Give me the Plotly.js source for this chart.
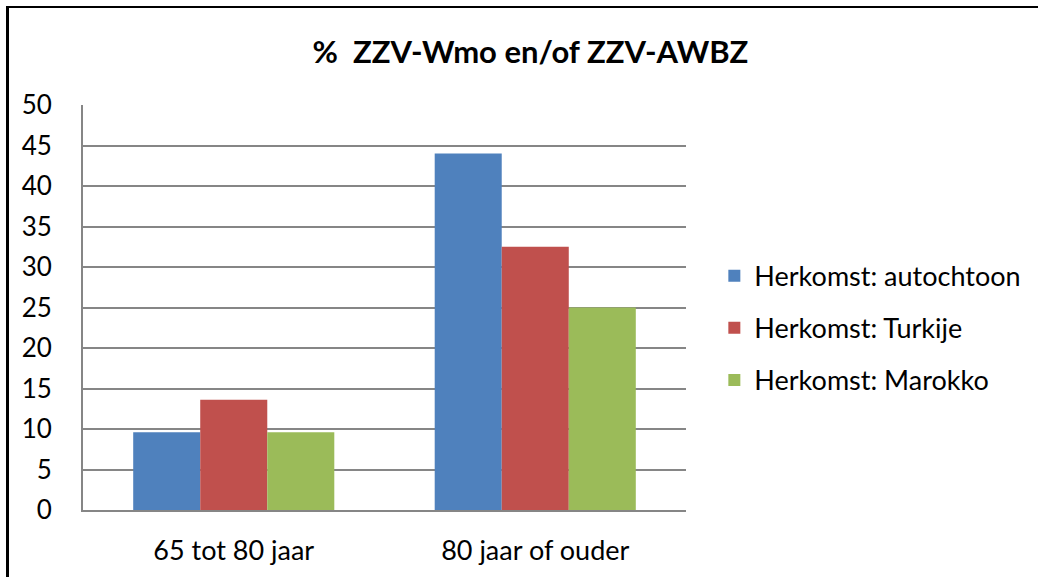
<!DOCTYPE html>
<html>
<head>
<meta charset="utf-8">
<script src="https://cdn.plot.ly/plotly-3.0.1.min.js"></script>
<style>
  html, body { margin: 0; padding: 0; background: #fff; }
  #frame { position: absolute; left: 6px; top: 6px; width: 1032px; height: 571px;
           border-top: 2px solid #000; border-left: 3px solid #000; box-sizing: border-box; pointer-events: none; z-index: 5; }
  #chart { position: absolute; left: 0; top: 0; width: 1038px; height: 577px; }
</style>
</head>
<body>
<div id="chart"></div>
<div id="frame"></div>
<script>
const categories = ["65 tot 80 jaar", "80 jaar of ouder"];
const seriesNames = ["Herkomst: autochtoon", "Herkomst: Turkije", "Herkomst: Marokko"];
const autochtoon = [9.6, 44.0];
const turkije = [13.6, 32.5];
const marokko = [9.6, 25.0];
const colors = ["#4F81BD", "#C0504D", "#9BBB59"];
const yTicks = [0, 5, 10, 15, 20, 25, 30, 35, 40, 45, 50];

const FONT = "Lato, Carlito, Calibri, 'Liberation Sans', sans-serif";
const values = [autochtoon, turkije, marokko];
const traces = values.map((v, i) => ({
  type: "bar",
  x: categories,
  y: v,
  name: seriesNames[i],
  legendgroup: "g" + i,
  marker: { color: colors[i], line: { width: 0 } },
  hoverinfo: "x+y+name"
}));

const layout = {
  width: 1038,
  height: 577,
  margin: { l: 83, r: 350, t: 105, b: 67, pad: 0 },
  paper_bgcolor: "#fff",
  plot_bgcolor: "#fff",
  font: { family: FONT, size: 26, color: "#000" },
  title: {
    text: "<b>%  ZZV-Wmo en/of ZZV-AWBZ</b>",
    font: { family: FONT, size: 31, color: "#000" },
    xref: "container", x: 0.511, xanchor: "center",
    yref: "container", y: 1 - 52 / 577, yanchor: "middle"
  },
  barmode: "group",
  bargap: 0.333,
  bargroupgap: 0,
  xaxis: {
    type: "category",
    showgrid: false,
    showline: true,
    linecolor: "#868686",
    linewidth: 2,
    ticks: "outside",
    ticklen: 16,
    tickcolor: "rgba(0,0,0,0)",
    tickfont: { family: FONT, size: 27, color: "#000" },
    fixedrange: true
  },
  yaxis: {
    range: [0, 50],
    tickvals: yTicks,
    ticktext: yTicks.map(String),
    showgrid: true,
    gridcolor: "#868686",
    gridwidth: 2,
    zeroline: false,
    showline: true,
    linecolor: "#868686",
    linewidth: 2,
    ticks: "outside",
    ticklen: 24,
    tickcolor: "rgba(0,0,0,0)",
    tickfont: { family: FONT, size: 26, color: "#000" },
    fixedrange: true
  },
  legend: {
    x: 1.047, xanchor: "left",
    y: 0.449, yanchor: "middle",
    traceorder: "grouped",
    tracegroupgap: 14,
    font: { family: FONT, size: 27, color: "#000" },
    bgcolor: "rgba(0,0,0,0)"
  },
  showlegend: true
};

Plotly.newPlot("chart", traces, layout, { displayModeBar: false, staticPlot: true });
</script>
</body>
</html>
